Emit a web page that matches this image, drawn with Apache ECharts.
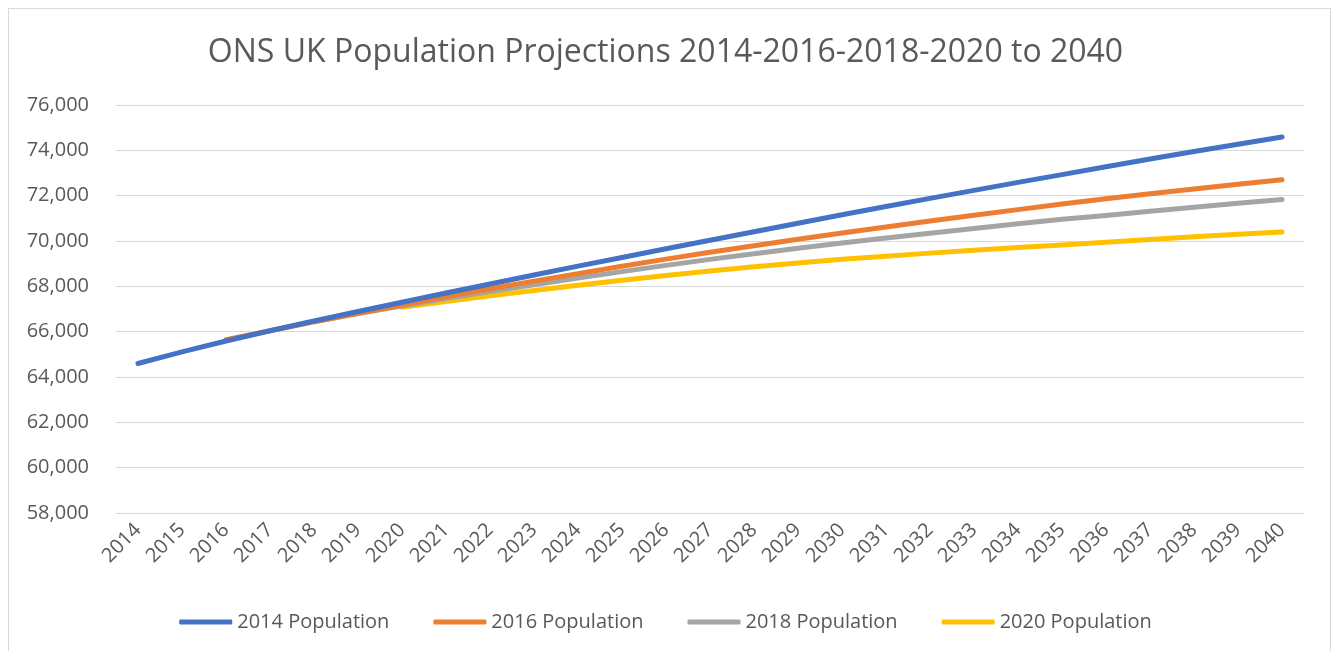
<!DOCTYPE html>
<html><head><meta charset="utf-8">
<script src="https://cdn.jsdelivr.net/npm/echarts@6/dist/echarts.min.js"></script>
<style>html,body{margin:0;padding:0;background:#fff;}#c{width:1331px;height:651px;}
#frame{position:absolute;left:8px;top:8px;width:1321px;height:660px;border:1px solid #d9d9d9;pointer-events:none;}</style>
</head><body><div id="c"></div><div id="frame"></div>
<script>
const years = ['2014','2015','2016','2017','2018','2019','2020','2021','2022','2023','2024','2025','2026','2027','2028','2029','2030','2031','2032','2033','2034','2035','2036','2037','2038','2039','2040'];
const pop2014 = [64597,65110,65590,66040,66470,66890,67300,67705,68105,68500,68890,69275,69655,70030,70410,70785,71155,71520,71880,72235,72585,72930,73275,73615,73945,74270,74590];
const pop2016 = [null,null,65648,66040,66435,66815,67180,67540,67890,68230,68560,68885,69200,69500,69790,70075,70350,70620,70880,71135,71385,71630,71860,72080,72295,72500,72700];
const pop2018 = [null,null,null,null,66436,66797,67134,67460,67770,68070,68365,68650,68925,69190,69440,69680,69910,70130,70345,70555,70760,70960,71130,71310,71490,71665,71835];
const pop2020 = [null,null,null,null,null,null,67081,67330,67580,67820,68050,68270,68480,68680,68860,69030,69190,69330,69465,69590,69710,69825,69950,70070,70185,70295,70400];
const seriesNames = ['2014 Population','2016 Population','2018 Population','2020 Population'];
const colors = ['#4472C4','#ED7D31','#A5A5A5','#FFC000'];
const font = '"Open Sans", "Noto Sans", sans-serif';
const chart = echarts.init(document.getElementById('c'));
const dataSets = [pop2014, pop2016, pop2018, pop2020];
chart.setOption({
  animation: false,
  color: colors,
  title: {text: 'ONS UK Population Projections 2014-2016-2018-2020 to 2040', left: 'center', top: 32,
    textStyle: {fontFamily: font, fontSize: 32, fontWeight: 'normal', color: '#595959'}},
  grid: {left: 116, right: 27, top: 105, bottom: 138, containLabel: false},
  legend: {bottom: 14, left: 'center', itemWidth: 53, itemHeight: 5, itemGap: 44,
    icon: 'roundRect',
    textStyle: {fontFamily: font, fontSize: 20, color: '#595959'},
    data: seriesNames},
  xAxis: {type: 'category', data: years, boundaryGap: true,
    axisLine: {show: false}, axisTick: {show: false},
    axisLabel: {rotate: 45, interval: 0, fontFamily: font, fontSize: 20, color: '#595959', margin: 14}},
  yAxis: {type: 'value', min: 58000, max: 76000, interval: 2000,
    axisLine: {show: false}, axisTick: {show: false},
    splitLine: {lineStyle: {color: '#d9d9d9', width: 1}},
    axisLabel: {fontFamily: font, fontSize: 20, color: '#595959', margin: 27,
      formatter: v => v.toLocaleString('en-US')}},
  series: dataSets.map((d, i) => ({
    name: seriesNames[i], type: 'line', data: d, showSymbol: false, symbol: 'none',
    lineStyle: {width: 5, cap: 'round', join: 'round', color: colors[i]}, z: 10 - i
  }))
});
</script></body></html>
